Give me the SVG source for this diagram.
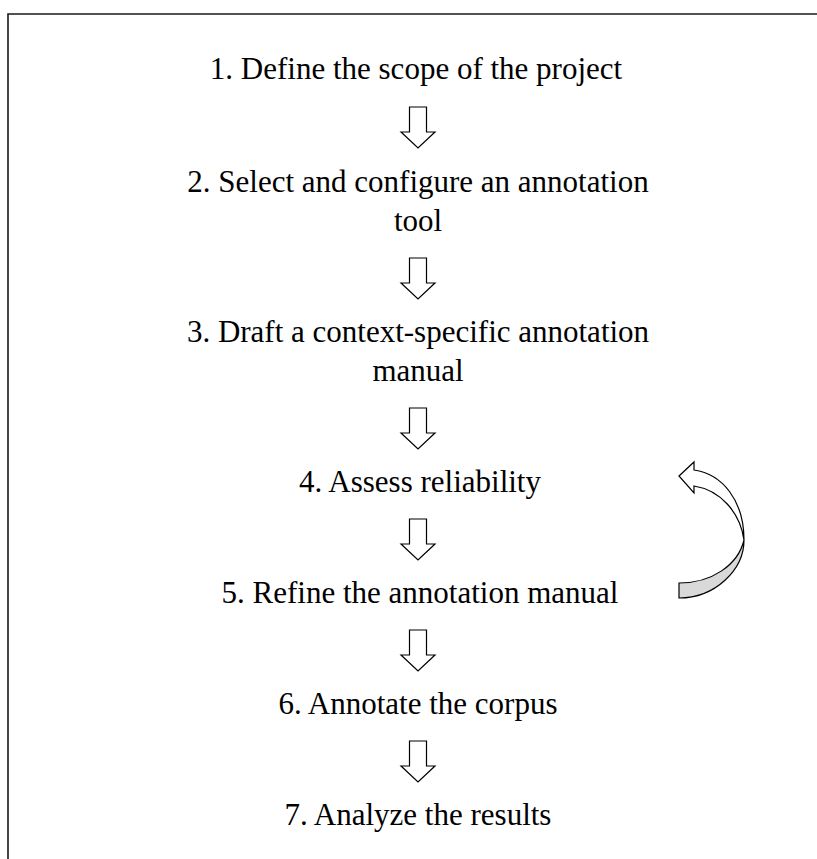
<svg xmlns="http://www.w3.org/2000/svg" width="817" height="859" viewBox="0 0 817 859">
<style>
.t{font-family:"Liberation Serif","Times New Roman",serif;font-size:31px;fill:#000;text-anchor:middle}
.da{fill:#fff;stroke:#000;stroke-width:1.2;stroke-linejoin:miter}
</style>
<defs>
<path id="down" d="M-8.5,0 H8.5 V25 H17 L0,41 L-17,25 H-8.5 Z"/>
</defs>
<rect width="817" height="859" fill="#fff"/>
<path d="M8,859 V14 H817" fill="none" stroke="#1a1a1a" stroke-width="1.6"/>
<g id="step1"><text class="t" x="416" y="79">1. Define the scope of the project</text></g>
<g id="step2"><text class="t" x="418" y="192">2. Select and configure an annotation</text><text class="t" x="418" y="231">tool</text></g>
<g id="step3"><text class="t" x="418" y="342">3. Draft a context-specific annotation</text><text class="t" x="418" y="381">manual</text></g>
<g id="step4"><text class="t" x="420" y="492">4. Assess reliability</text></g>
<g id="step5"><text class="t" x="420" y="603">5. Refine the annotation manual</text></g>
<g id="step6"><text class="t" x="418" y="714">6. Annotate the corpus</text></g>
<g id="step7"><text class="t" x="418" y="825">7. Analyze the results</text></g>
<g id="connectors">
<use href="#down" class="da" x="418" y="107"/>
<use href="#down" class="da" x="418" y="258"/>
<use href="#down" class="da" x="418" y="408"/>
<use href="#down" class="da" x="418" y="519"/>
<use href="#down" class="da" x="418" y="630"/>
<use href="#down" class="da" x="418" y="741"/>
<g id="loop">
<path d="M744,540 C744,570 715,598 679,598 L679,583 C712,583 738,565 744,540 Z" fill="#d9d9d9" stroke="#000" stroke-width="1.2"/>
<path d="M679,476 L694,462 L694,470 C722,474 744,500 744,540 C740,512 720,490 694,486 L694,493 Z" fill="#fff" stroke="#000" stroke-width="1.2" stroke-linejoin="miter"/>
</g>
</g>
</svg>
